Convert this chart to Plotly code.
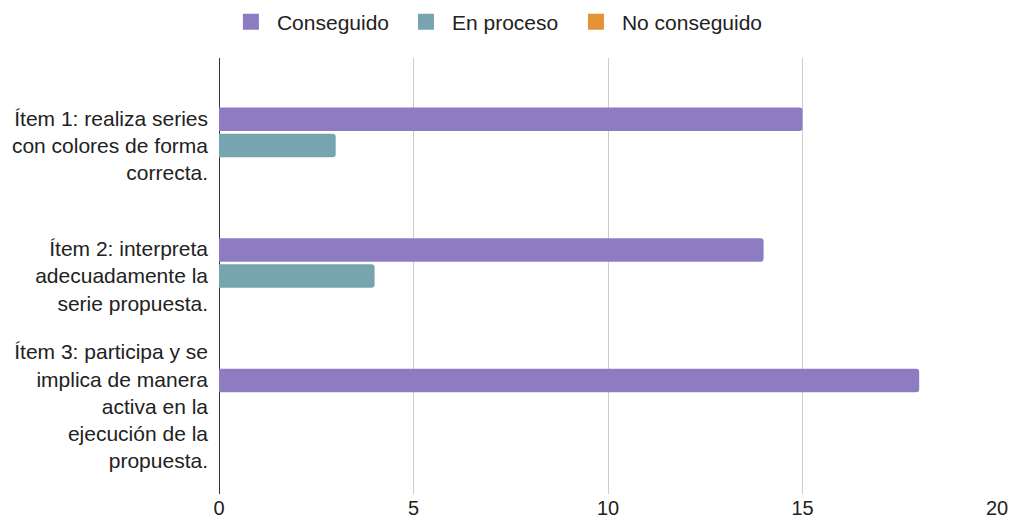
import plotly.graph_objects as go

# chart data
items = [
    "Ítem 1: realiza series<br>con colores de forma<br>correcta.",
    "Ítem 2: interpreta<br>adecuadamente la<br>serie propuesta.",
    "Ítem 3: participa y se<br>implica de manera<br>activa en la<br>ejecución de la<br>propuesta.",
]
conseguido = [15, 14, 18]
en_proceso = [3, 4, 0]
no_conseguido = [0, 0, 0]

series = [
    ("Conseguido", conseguido, "#8e7cc3"),
    ("En proceso", en_proceso, "#76a5af"),
    ("No conseguido", no_conseguido, "#e69138"),
]

fig = go.Figure()
for name, values, color in series:
    fig.add_trace(
        go.Bar(
            y=items,
            x=values,
            name=name,
            orientation="h",
            marker=dict(color=color, line=dict(width=0)),
            showlegend=False,
        )
    )

# legend entries with bigger square swatches, one legend box per entry
legend_names = ["legend", "legend2", "legend3"]
legend_x = [0.2227, 0.396, 0.5643]
for (name, values, color), lg in zip(series, legend_names):
    fig.add_trace(
        go.Scatter(
            x=[None],
            y=[None],
            name=name,
            mode="markers",
            marker=dict(symbol="square", size=16, color=color),
            legend=lg,
        )
    )

legend_style = dict(
    orientation="h",
    xref="container",
    xanchor="left",
    y=0.958,
    yanchor="middle",
    yref="container",
    font=dict(size=21, color="#222222"),
    itemwidth=42,
    bgcolor="rgba(0,0,0,0)",
)

fig.update_layout(
    width=1010,
    height=527,
    barmode="group",
    bargap=0.4,
    bargroupgap=0.1,
    barcornerradius=3,
    plot_bgcolor="white",
    paper_bgcolor="white",
    font=dict(family="Liberation Sans, Arial, sans-serif", size=21, color="#222222"),
    margin=dict(t=58, b=33, l=219, r=13),
    legend=dict(x=legend_x[0], **legend_style),
    legend2=dict(x=legend_x[1], **legend_style),
    legend3=dict(x=legend_x[2], **legend_style),
    showlegend=True,
)

fig.update_xaxes(
    range=[0, 20],
    tickvals=[0, 5, 10, 15, 20],
    showgrid=True,
    gridcolor="#cccccc",
    gridwidth=1,
    zeroline=True,
    zerolinecolor="#333333",
    zerolinewidth=1,
    showline=False,
    ticks="",
    automargin=False,
    tickfont=dict(size=20, color="#222222"),
)

fig.update_yaxes(
    type="category",
    range=[2.67, -0.67],
    showgrid=False,
    zeroline=False,
    showline=False,
    ticks="",
    automargin=False,
    ticklabelstandoff=10,
    tickfont=dict(size=21, color="#222222"),
)

# drop the default body margin so the figure sits at the page corner
fig.write_html(
    "out.html",
    config={"displayModeBar": False},
    post_script="document.body.style.margin = '0';",
)
